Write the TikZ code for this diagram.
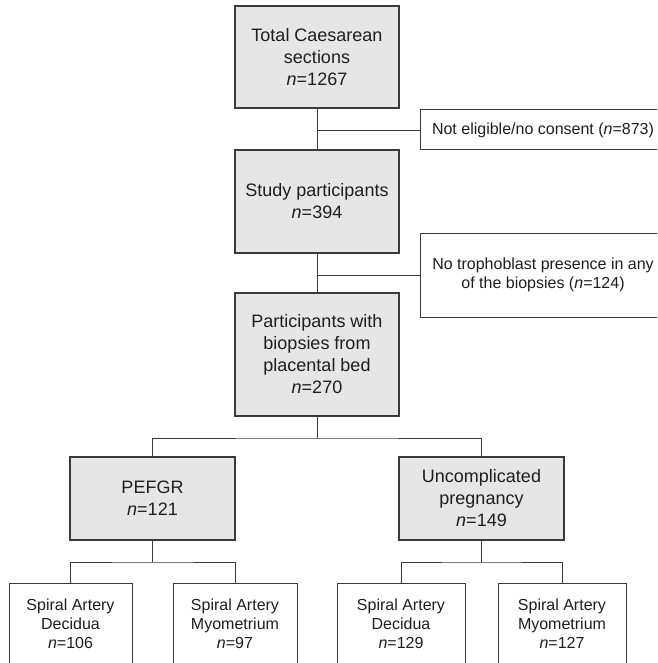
\documentclass[tikz,border=0pt]{standalone}
\usepackage{fontspec}
\setmainfont{Liberation Sans}
\definecolor{boxgray}{HTML}{E6E6E6}
\definecolor{edge}{HTML}{3A3A3A}
\definecolor{ink}{HTML}{1E1E1E}
\begin{document}
\begin{tikzpicture}[x=1pt,y=-1pt,
  mainbox/.style={draw=edge,line width=1.1pt,fill=boxgray,text=ink,align=center,
    inner sep=0pt,font=\fontsize{18}{22}\selectfont},
  sidebox/.style={draw=edge,line width=1pt,fill=white,text=ink,align=center,
    inner sep=0pt,font=\fontsize{16}{19}\selectfont},
  link/.style={draw=edge,line width=0.9pt}]
\useasboundingbox (0,0) rectangle (657,663);
\clip (0,0) rectangle (657,663);

% main flow
\node[mainbox,minimum width=164pt,minimum height=102pt] (total) at (317,57)
  {Total Caesarean\\sections\\\textit{n}=1267};
\node[mainbox,minimum width=164pt,minimum height=103pt] (study) at (317,201.5)
  {Study participants\\\textit{n}=394};
\node[mainbox,minimum width=164pt,minimum height=123pt] (bed) at (317,354.5)
  {Participants with\\biopsies from\\placental bed\\\textit{n}=270};

% exclusions
\node[sidebox,minimum width=246pt,minimum height=40pt] (excl1) at (543,130)
  {Not eligible/no consent (\textit{n}=873)};
\node[sidebox,minimum width=246pt,minimum height=84pt] (excl2) at (543,275)
  {No trophoblast presence in any\\of the biopsies (\textit{n}=124)};

% groups
\node[mainbox,minimum width=165pt,minimum height=83pt] (pefgr) at (152.5,498.5)
  {PEFGR\\\textit{n}=121};
\node[mainbox,minimum width=165pt,minimum height=83pt] (unc) at (481.5,498.5)
  {Uncomplicated\\pregnancy\\\textit{n}=149};

% tissue sites
\node[sidebox,minimum width=123pt,minimum height=82pt] (pd) at (70.5,624)
  {Spiral Artery\\Decidua\\\textit{n}=106};
\node[sidebox,minimum width=124pt,minimum height=82pt] (pm) at (235,624)
  {Spiral Artery\\Myometrium\\\textit{n}=97};
\node[sidebox,minimum width=128pt,minimum height=82pt] (ud) at (401,624)
  {Spiral Artery\\Decidua\\\textit{n}=129};
\node[sidebox,minimum width=128pt,minimum height=82pt] (um) at (562,624)
  {Spiral Artery\\Myometrium\\\textit{n}=127};

% connectors
\draw[link] (total.south) -- (study.north);
\draw[link] (excl1.west) -- (excl1.west -| total.south);
\draw[link] (study.south) -- (bed.north);
\draw[link] (excl2.west) -- (excl2.west -| study.south);

\coordinate (split) at (317,438);
\draw[link] (bed.south) -- (split);
\draw[link] (pefgr.north) |- (split) -| (unc.north);

\coordinate (splitL) at (152.5,562);
\coordinate (splitR) at (481.5,562);
\draw[link] (pefgr.south) -- (splitL);
\draw[link] (pd.north) |- (splitL) -| (pm.north);
\draw[link] (unc.south) -- (splitR);
\draw[link] (ud.north) |- (splitR) -| (um.north);
\end{tikzpicture}
\end{document}
